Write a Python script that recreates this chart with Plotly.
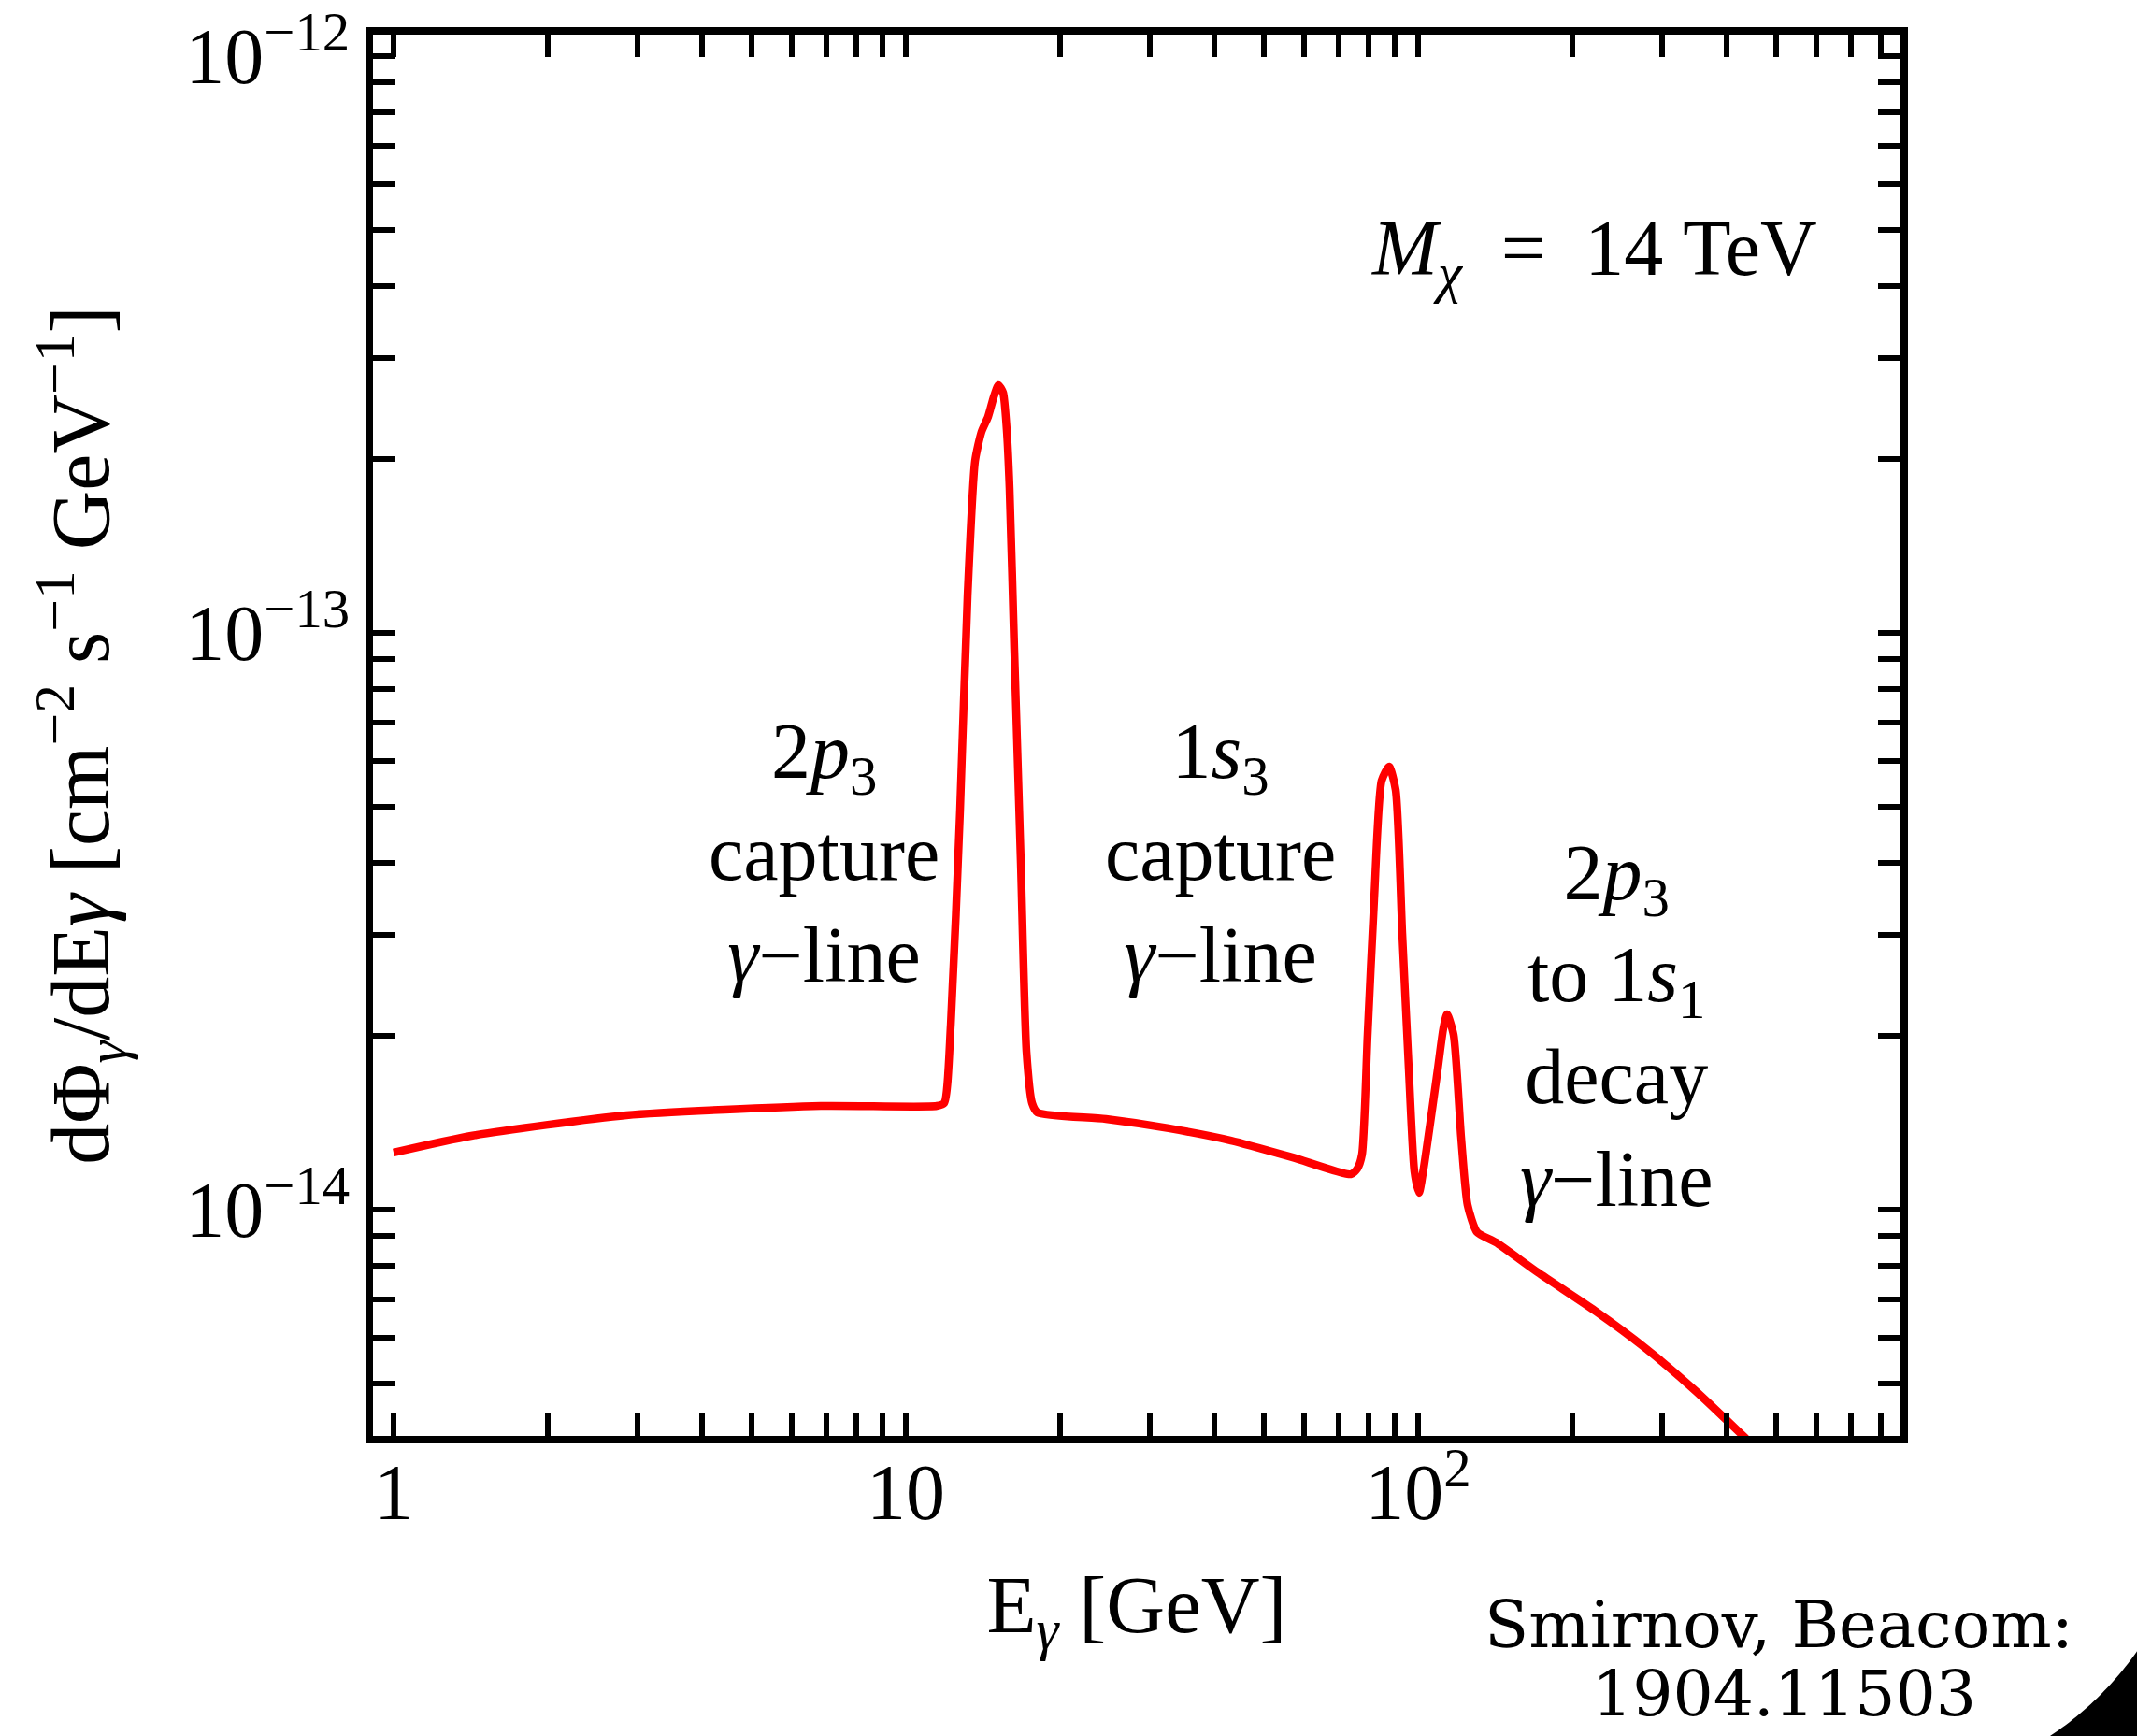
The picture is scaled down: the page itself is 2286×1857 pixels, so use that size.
import math
import plotly.graph_objects as go

# ---- data (E in GeV, flux in cm^-2 s^-1 GeV^-1) ----
E_gamma = [1.0, 1.418, 2.848, 6.823, 11.49, 11.88, 12.24, 12.76, 13.20, 13.65,
           14.05, 14.47, 14.84, 15.16, 15.48, 15.74, 15.94, 16.28, 16.77, 17.20,
           17.64, 18.08, 24.58, 32.57, 43.15, 56.95, 73.88, 76.09, 77.70, 79.69,
           82.07, 84.88, 87.78, 90.41, 93.11, 95.90, 98.34, 100.4, 102.5, 109.2,
           112.0, 113.9, 117.3, 121.3, 124.9, 130.3, 141.8, 171.2, 221.3, 277.6,
           348.3, 442.6, 500.0]
flux = [1.256e-14, 1.343e-14, 1.458e-14, 1.513e-14, 1.513e-14, 1.530e-14, 2.094e-14,
        4.921e-14, 1.161e-13, 1.987e-13, 2.231e-13, 2.368e-13, 2.562e-13, 2.689e-13,
        2.610e-13, 2.247e-13, 1.783e-13, 9.385e-14, 3.979e-14, 1.879e-14, 1.530e-14,
        1.474e-14, 1.436e-14, 1.384e-14, 1.318e-14, 1.232e-14, 1.152e-14, 1.178e-14,
        1.246e-14, 2.010e-14, 3.451e-14, 5.546e-14, 5.865e-14, 5.342e-14, 3.017e-14,
        1.750e-14, 1.165e-14, 1.070e-14, 1.178e-14, 1.750e-14, 2.063e-14, 2.181e-14,
        2.010e-14, 1.338e-14, 1.019e-14, 9.144e-15, 8.777e-15, 7.786e-15, 6.683e-15,
        5.757e-15, 4.849e-15, 3.963e-15, 3.570e-15]

x_tickvals = [1, 2, 3, 4, 5, 6, 7, 8, 9, 10, 20, 30, 40, 50, 60, 70, 80, 90,
              100, 200, 300, 400, 500, 600, 700, 800]
x_ticktext = ["1", "", "", "", "", "", "", "", "", "10", "", "", "", "", "", "", "", "",
              "10<sup>2</sup>", "", "", "", "", "", "", ""]
y_tickvals = [5e-15, 6e-15, 7e-15, 8e-15, 9e-15,
              1e-14, 2e-14, 3e-14, 4e-14, 5e-14, 6e-14, 7e-14, 8e-14, 9e-14,
              1e-13, 2e-13, 3e-13, 4e-13, 5e-13, 6e-13, 7e-13, 8e-13, 9e-13, 1e-12]
y_ticktext = ["", "", "", "", "",
              "10<sup>−14</sup>", "", "", "", "", "", "", "", "",
              "10<sup>−13</sup>", "", "", "", "", "", "", "", "",
              "10<sup>−12</sup>"]

x_range_log = [-0.0401, 2.9416]
y_range_log = [-14.3922, -11.9627]

FONT = "Liberation Serif"
W, H = 2286, 1857
L, R, T, B = 399, 253, 37, 321

fig = go.Figure()
fig.add_trace(go.Scatter(
    x=E_gamma, y=flux, mode="lines",
    line=dict(color="#ff0000", width=8.5, shape="spline", smoothing=0.6),
    showlegend=False, hoverinfo="skip"))

axis_common = dict(
    type="log", showgrid=False, zeroline=False,
    showline=True, linecolor="black", linewidth=8, mirror="allticks",
    ticks="inside", ticklen=24, tickwidth=6, tickcolor="black",
    tickfont=dict(family=FONT, size=84, color="black"),
)

fig.update_xaxes(
    range=x_range_log,
    tickmode="array", tickvals=x_tickvals, ticktext=x_ticktext,
    ticklabelstandoff=-20,
    title=dict(text="E<sub><i>γ</i></sub> [GeV]", font=dict(family=FONT, size=87, color="black"),
               standoff=46),
    automargin=False, **axis_common)
fig.update_yaxes(
    range=y_range_log,
    tickmode="array", tickvals=y_tickvals, ticktext=y_ticktext,
    title=dict(text="dΦ<sub><i>γ</i></sub>/dE<i>γ</i> [cm<sup>−2</sup> s<sup>−1</sup> GeV<sup>−1</sup>]",
               font=dict(family=FONT, size=88, color="black"), standoff=55),
    automargin=False, **axis_common)

def px2paper(px, py):
    return (px - L) / (W - L - R), (H - B - py) / (H - T - B)

annots = [
    ("<i>M</i><sub><i>χ</i></sub>\u2002=\u200214 TeV", 1705, 272, 84, FONT),
    ("2<i>p</i><sub>3</sub><br>capture<br><i>γ</i>−line", 881, 912, 84, FONT),
    ("1<i>s</i><sub>3</sub><br>capture<br><i>γ</i>−line", 1305, 912, 84, FONT),
    ("2<i>p</i><sub>3</sub><br>to 1<i>s</i><sub>1</sub><br>decay<br><i>γ</i>−line", 1729, 1097, 84, FONT),
    ("Smirnov, Beacom:", 1903, 1738, 69, "DejaVu Serif"),
    ("1904.11503", 1908, 1811, 68, "DejaVu Serif"),
]
for text, px, py, size, fam in annots:
    xp, yp = px2paper(px, py)
    fig.add_annotation(x=xp, y=yp, xref="paper", yref="paper", text=text,
                       showarrow=False, xanchor="center", yanchor="middle",
                       align="center", font=dict(family=fam, size=size, color="black"))

# black rounded-corner decoration in the bottom-right corner of the page
cx, cy, rad = 1998, 1564, 352
a0 = math.atan2(math.sqrt(rad**2 - (W + 5 - cx)**2), W + 5 - cx)
a1 = math.atan2(H + 5 - cy, math.sqrt(rad**2 - (H + 5 - cy)**2))
pts = []
n = 30
for i in range(n + 1):
    a = a0 + (a1 - a0) * i / n
    pts.append(px2paper(cx + rad * math.cos(a), cy + rad * math.sin(a)))
pts.append(px2paper(W + 5, H + 5))
path = "M " + " L ".join(f"{x:.5f},{y:.5f}" for x, y in pts) + " Z"
fig.add_shape(type="path", path=path, xref="paper", yref="paper",
              fillcolor="black", line=dict(width=0), layer="above")

fig.update_layout(
    width=W, height=H, autosize=False,
    margin=dict(l=L, r=R, t=T, b=B, pad=0),
    paper_bgcolor="white", plot_bgcolor="white",
    showlegend=False,
)

fig.write_html("out.html")
